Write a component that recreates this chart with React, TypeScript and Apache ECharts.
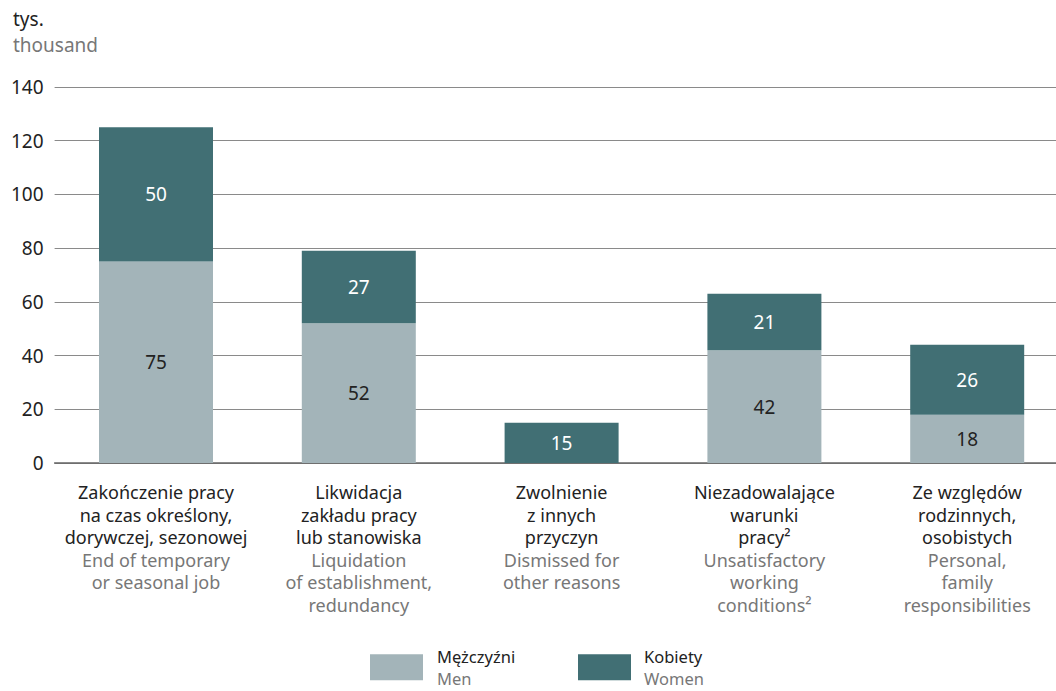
import React, { useEffect, useRef } from "react";
import * as echarts from "echarts";

const categoriesPl: string[][] = [
  ["Zakończenie pracy", "na czas określony,", "dorywczej, sezonowej"],
  ["Likwidacja", "zakładu pracy", "lub stanowiska"],
  ["Zwolnienie", "z innych", "przyczyn"],
  ["Niezadowalające", "warunki", "pracy²"],
  ["Ze względów", "rodzinnych,", "osobistych"],
];
const categoriesEn: string[][] = [
  ["End of temporary", "or seasonal job"],
  ["Liquidation", "of establishment,", "redundancy"],
  ["Dismissed for", "other reasons"],
  ["Unsatisfactory", "working", "conditions²"],
  ["Personal,", "family", "responsibilities"],
];
const menValues: (number | null)[] = [75, 52, null, 42, 18];
const womenValues: number[] = [50, 27, 15, 21, 26];
const yTicks = { min: 0, max: 140, interval: 20 };

const FONT = "'Noto Sans', sans-serif";
const FS = 19;
const FS_CAT = 18;
const FS_LEG = 16.5;
const MEN_COLOR = "#a3b4b9";
const WOMEN_COLOR = "#416f74";

const legendRich = {
  pl: { fontSize: FS_LEG, color: "#222", lineHeight: 21.5, fontFamily: FONT },
  en: { fontSize: FS_LEG, color: "#777", lineHeight: 21.5, fontFamily: FONT },
};

export default function App() {
  const ref = useRef<HTMLDivElement>(null);
  useEffect(() => {
    if (!ref.current) return;
    const chart = echarts.init(ref.current, null, { renderer: "svg" });
    chart.setOption({
      animation: false,
      textStyle: { fontFamily: FONT },
      title: {
        text: "tys.",
        subtext: "thousand",
        left: 8,
        top: 4,
        itemGap: 7,
        textStyle: { fontSize: FS, fontWeight: "normal", color: "#222", fontFamily: FONT },
        subtextStyle: { fontSize: FS, color: "#777", fontFamily: FONT },
      },
      legend: [
        {
          data: [{ name: "Mężczyźni", icon: "rect" }],
          left: 370,
          top: 648,
          padding: 0,
          itemWidth: 53,
          itemHeight: 26,
          itemGap: 0,
          selectedMode: false,
          formatter: () => "{pl|Mężczyźni}\n{en|Men}",
          textStyle: { fontFamily: FONT, padding: [0, 0, 0, 9], rich: legendRich },
        },
        {
          data: [{ name: "Kobiety", icon: "rect" }],
          left: 578,
          top: 648,
          padding: 0,
          itemWidth: 53,
          itemHeight: 26,
          itemGap: 0,
          selectedMode: false,
          formatter: () => "{pl|Kobiety}\n{en|Women}",
          textStyle: { fontFamily: FONT, padding: [0, 0, 0, 8], rich: legendRich },
        },
      ],
      grid: { left: 54.6, top: 87, width: 1014, height: 376, containLabel: false },
      xAxis: {
        type: "category",
        data: categoriesPl.map((_, i) => String(i)),
        axisTick: { show: false },
        axisLine: { show: true, lineStyle: { color: "#666", width: 1.5 } },
        axisLabel: {
          interval: 0,
          margin: 18,
          formatter: (_v: string, idx: number) => {
            const pl = categoriesPl[idx].map((l) => `{pl|${l}}`);
            const en = categoriesEn[idx].map((l) => `{en|${l}}`);
            return [...pl, ...en].join("\n");
          },
          rich: {
            pl: { fontSize: FS_CAT, color: "#222", lineHeight: 22.5, fontFamily: FONT },
            en: { fontSize: FS_CAT, color: "#777", lineHeight: 22.5, fontFamily: FONT },
          },
        },
      },
      yAxis: {
        type: "value",
        min: yTicks.min,
        max: yTicks.max,
        interval: yTicks.interval,
        axisLine: { show: false },
        axisTick: { show: false },
        axisLabel: { fontSize: FS, color: "#222", margin: 11, fontFamily: FONT },
        splitLine: { lineStyle: { color: "#8a8a8a", width: 1 } },
      },
      series: [
        {
          name: "Mężczyźni",
          type: "bar",
          stack: "total",
          barWidth: 114,
          data: menValues,
          itemStyle: { color: MEN_COLOR },
          label: { show: true, position: "inside", fontSize: FS, color: "#222", fontFamily: FONT },
        },
        {
          name: "Kobiety",
          type: "bar",
          stack: "total",
          barWidth: 114,
          data: womenValues,
          itemStyle: { color: WOMEN_COLOR },
          label: { show: true, position: "inside", fontSize: FS, color: "#fff", fontFamily: FONT },
        },
      ],
    });
    return () => chart.dispose();
  }, []);
  return (
    <div style={{ position: "absolute", left: 0, top: 0, width: 1056, height: 691, overflow: "hidden" }}>
      <div ref={ref} style={{ width: 1070, height: 691 }} />
    </div>
  );
}
